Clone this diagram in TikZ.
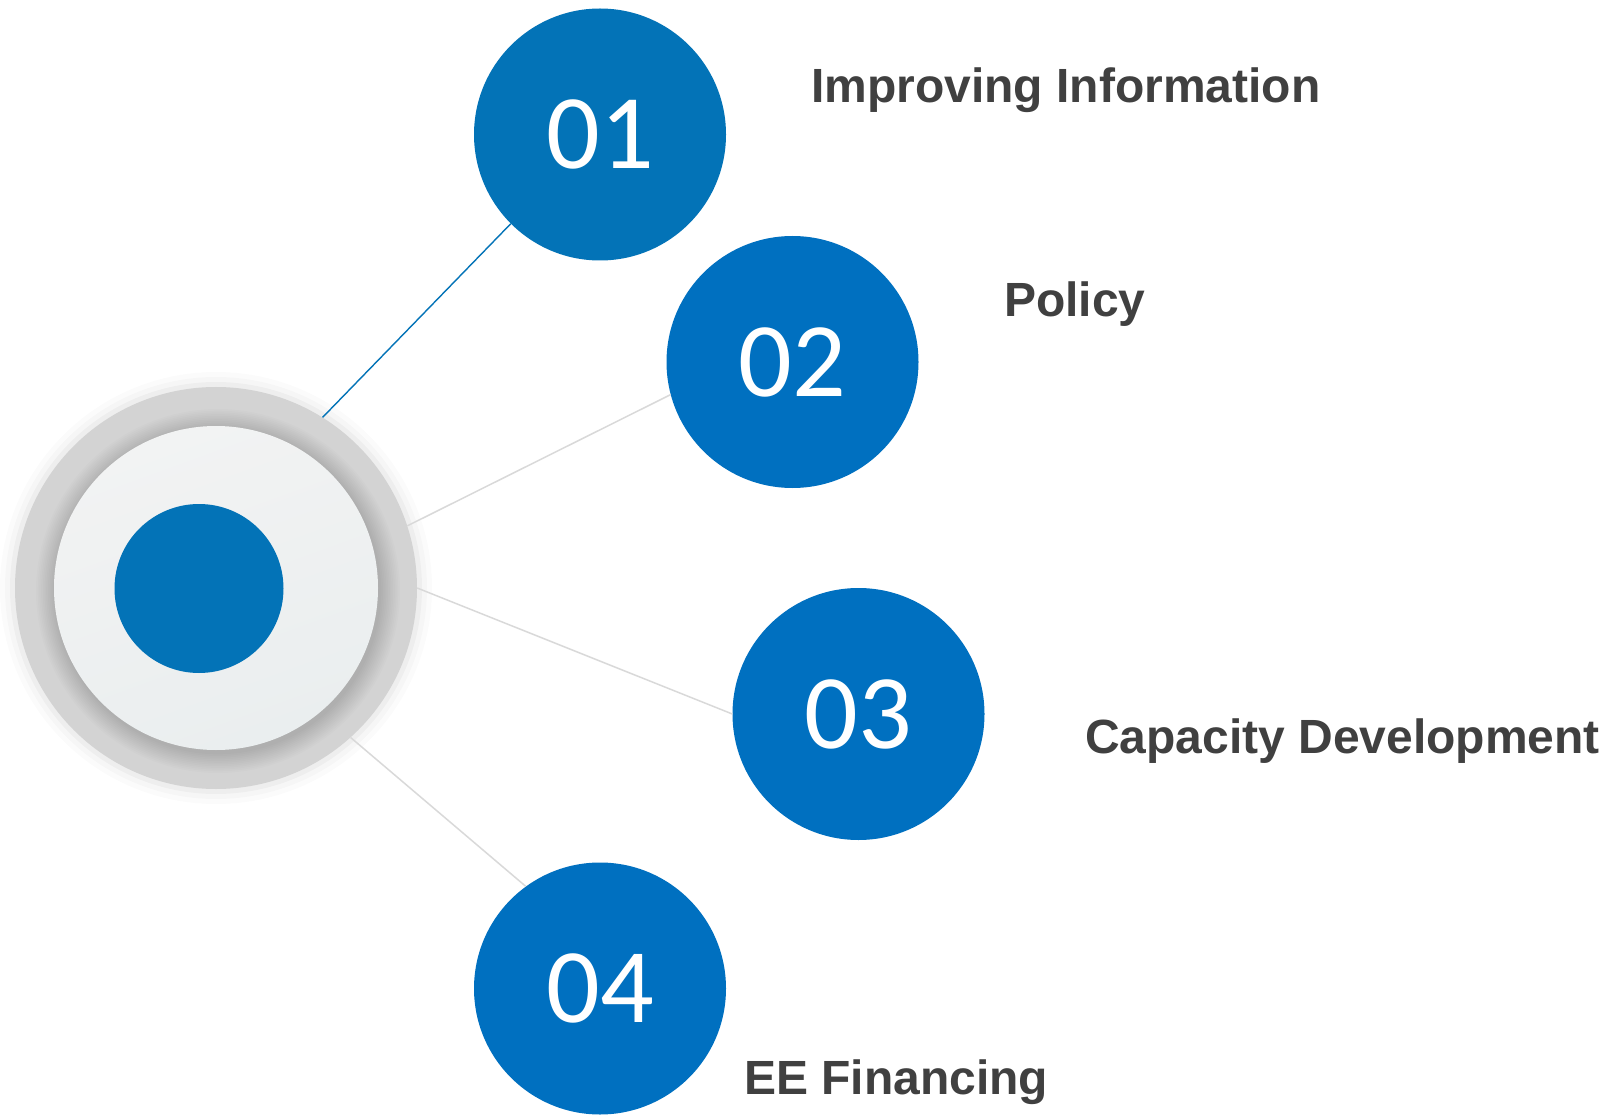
\documentclass[tikz,border=0pt]{standalone}
\usepackage{fontspec}
\setmainfont{Liberation Sans}
\newfontfamily\numfont{Carlito}
\definecolor{blueA}{RGB}{3,115,183}
\definecolor{blueB}{RGB}{0,112,192}
\definecolor{labelgray}{RGB}{64,64,64}
\definecolor{linegray}{RGB}{217,217,217}
\definecolor{ringgray}{RGB}{211,211,211}
\definecolor{innerA}{RGB}{242,243,243}
\definecolor{innerB}{RGB}{234,238,239}
\begin{document}
\begin{tikzpicture}[x=1pt,y=-1pt,
  numcircle/.style={circle, minimum size=252pt, inner sep=0pt, text=white,
    font=\numfont\fontsize{106}{106}\selectfont},
  itemtext/.style={anchor=base west, text=labelgray, inner sep=0pt,
    font=\bfseries\fontsize{48}{48}\selectfont},
  bluelink/.style={draw=blueA, line width=1.4pt},
  graylink/.style={draw=linegray, line width=1.5pt}]
\useasboundingbox[fill=white] (0,0) rectangle (1610,1115);

% hub with ring
\node[circle, minimum size=402pt, inner sep=0pt] (hub) at (216,588) {};
\foreach \r/\o in {216/0.015, 211/0.02, 206/0.03}
  \fill[black, opacity=\o] (hub.center) circle (\r);
\fill[ringgray] (hub.center) circle (201);
\foreach \i in {0,...,11}
  \fill[black, opacity=0.011] (218,591) circle ({182-\i*1.7});
\shade[top color=innerA, bottom color=innerB, shading angle=20] (hub.center) circle (162);
\node[circle, fill=blueA, minimum size=169pt, inner sep=0pt] (core) at (199,588.5) {};

% numbered circles
\node[numcircle, fill=blueA] (c1) at (600,134.5) {01};
\node[numcircle, fill=blueB] (c2) at (792.5,362) {02};
\node[numcircle, fill=blueB] (c3) at (858.5,714) {03};
\node[numcircle, fill=blueB] (c4) at (600,988.5) {04};

% connectors
\draw[bluelink] (hub.58.3) -- (c1.225);
\draw[graylink] (hub.18.7) -- (c2.195.8);
\draw[graylink] (hub.0) -- (c3.180);
\draw[graylink] (hub.-48.8) -- (c4.126.7);

% labels
\node[itemtext] (t1) at (811,103) {Improving Information};
\node[itemtext] (t2) at (1004,317) {Policy};
\node[itemtext] (t3) at (1085,753) {Capacity Development};
\node[itemtext] (t4) at (744,1094) {EE Financing};
\end{tikzpicture}
\end{document}
